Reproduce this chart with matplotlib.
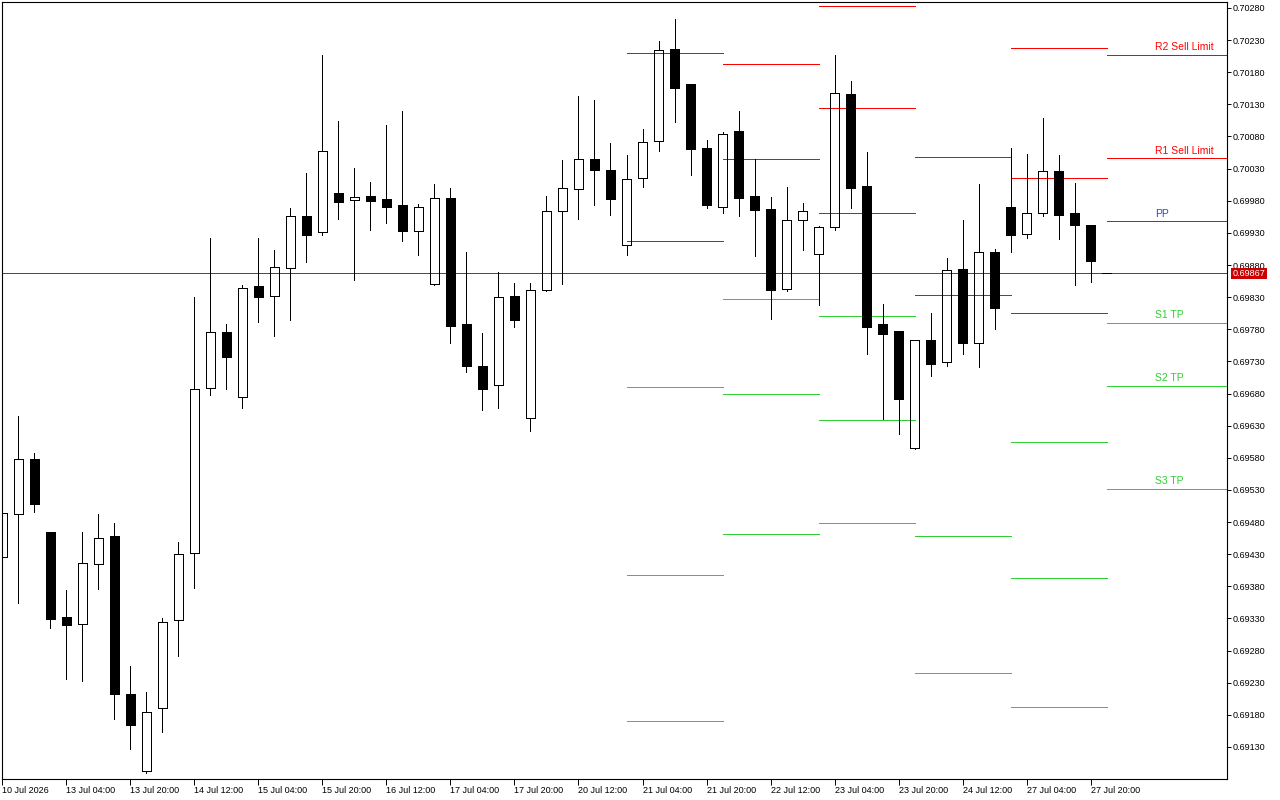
import matplotlib
matplotlib.use('Agg')
import matplotlib.pyplot as plt
from matplotlib.patches import Rectangle
import numpy as np

# H4 bars, 10 Jul 2026 12:00 .. 28 Jul 2026 00:00
opens = [0.69426, 0.69493, 0.69578, 0.69465, 0.69332, 0.69321, 0.69415, 0.69458, 0.69212, 0.69093,
         0.69191, 0.69328, 0.69432, 0.69689, 0.69776, 0.69675, 0.69847, 0.69832, 0.69875, 0.69956,
         0.69931, 0.69992, 0.69981, 0.69987, 0.69983, 0.69973, 0.69933, 0.69850, 0.69984, 0.69788,
         0.69723, 0.69693, 0.69832, 0.69642, 0.69841, 0.69964, 0.69998, 0.70045, 0.70028, 0.69911,
         0.70015, 0.70073, 0.70216, 0.70162, 0.70062, 0.69970, 0.70089, 0.69987, 0.69967, 0.69843,
         0.69950, 0.69897, 0.69939, 0.70146, 0.70003, 0.69788, 0.69777, 0.69595, 0.69763, 0.69729,
         0.69874, 0.69759, 0.69900, 0.69970, 0.69928, 0.69961, 0.70026, 0.69961, 0.69942, 0.69867]
highs = [0.69496, 0.69645, 0.69587, 0.69465, 0.69374, 0.69465, 0.69493, 0.69479, 0.69256, 0.69216,
         0.69331, 0.69449, 0.69830, 0.69922, 0.69788, 0.69849, 0.69922, 0.69903, 0.69969, 0.70023,
         0.70207, 0.70104, 0.70031, 0.70009, 0.70098, 0.70120, 0.69975, 0.70006, 0.70000, 0.69900,
         0.69774, 0.69869, 0.69852, 0.69852, 0.69987, 0.70043, 0.70143, 0.70137, 0.70070, 0.70051,
         0.70092, 0.70229, 0.70263, 0.70162, 0.70075, 0.70087, 0.70120, 0.70045, 0.69986, 0.70001,
         0.69977, 0.69941, 0.70207, 0.70166, 0.70056, 0.69819, 0.69777, 0.69763, 0.69805, 0.69891,
         0.69950, 0.70006, 0.69905, 0.70062, 0.70053, 0.70109, 0.70051, 0.70008, 0.69942, 0.69867]
lows = [0.69423, 0.69354, 0.69496, 0.69315, 0.69236, 0.69233, 0.69376, 0.69174, 0.69127, 0.69090,
        0.69153, 0.69272, 0.69377, 0.69678, 0.69687, 0.69658, 0.69791, 0.69770, 0.69794, 0.69885,
        0.69927, 0.69952, 0.69857, 0.69934, 0.69945, 0.69917, 0.69896, 0.69849, 0.69759, 0.69714,
        0.69654, 0.69658, 0.69784, 0.69622, 0.69840, 0.69850, 0.69952, 0.69973, 0.69958, 0.69896,
        0.70001, 0.70057, 0.70103, 0.70020, 0.69969, 0.69961, 0.69956, 0.69894, 0.69796, 0.69840,
        0.69903, 0.69818, 0.69934, 0.69969, 0.69742, 0.69640, 0.69617, 0.69594, 0.69707, 0.69723,
        0.69742, 0.69721, 0.69780, 0.69900, 0.69922, 0.69956, 0.69920, 0.69849, 0.69854, 0.69867]
closes = [0.69494, 0.69578, 0.69508, 0.69329, 0.69320, 0.69416, 0.69455, 0.69212, 0.69164, 0.69184,
          0.69324, 0.69430, 0.69687, 0.69776, 0.69737, 0.69844, 0.69830, 0.69877, 0.69956, 0.69927,
          0.70057, 0.69978, 0.69986, 0.69980, 0.69970, 0.69933, 0.69970, 0.69984, 0.69785, 0.69723,
          0.69687, 0.69830, 0.69794, 0.69841, 0.69964, 0.70000, 0.70045, 0.70028, 0.69983, 0.70014,
          0.70071, 0.70215, 0.70156, 0.70061, 0.69973, 0.70084, 0.69984, 0.69966, 0.69841, 0.69950,
          0.69964, 0.69939, 0.70148, 0.70000, 0.69784, 0.69773, 0.69672, 0.69763, 0.69726, 0.69872,
          0.69759, 0.69900, 0.69813, 0.69927, 0.69961, 0.70026, 0.69958, 0.69942, 0.69886, 0.69867]

tick_labels = ['10 Jul 2026', '13 Jul 04:00', '13 Jul 20:00', '14 Jul 12:00', '15 Jul 04:00',
               '15 Jul 20:00', '16 Jul 12:00', '17 Jul 04:00', '17 Jul 20:00', '20 Jul 12:00',
               '21 Jul 04:00', '21 Jul 20:00', '22 Jul 12:00', '23 Jul 04:00', '23 Jul 20:00',
               '24 Jul 12:00', '27 Jul 04:00', '27 Jul 20:00']
price_ticks = [0.69130 + 0.0005 * k for k in range(24)]

# daily pivot levels (bar index where each day starts / ends)
day_start = [39, 45, 51, 57, 63, 69]
day_end = [45, 51, 57, 63, 69, None]
r2 = [None, None, 0.70283, None, 0.70218, 0.70207]
r1 = [0.70210, 0.70193, 0.70124, 0.70048, 0.70015, 0.70046]
pp = [0.69917, 0.70045, 0.69961, 0.69833, 0.69805, 0.69948]
s1 = [0.69690, 0.69827, 0.69801, None, 0.69605, 0.69790]
s2 = [0.69398, 0.69679, 0.69639, 0.69458, 0.69393, 0.69692]
s3 = [0.69170, 0.69461, 0.69479, 0.69245, 0.69192, 0.69532]
level_names = ['R2 Sell Limit', 'R1 Sell Limit', 'PP', 'S1 TP', 'S2 TP', 'S3 TP']
bid = 0.69867

RED = '#ff0000'
BLUE = '#1a4fd0'
GREEN = '#32cd32'
FONT = 'Liberation Sans'
LW = 0.6

fig = plt.figure(figsize=(12.8, 8), dpi=100)
ax = fig.add_axes([2 / 1280, 21 / 800, 1225 / 1280, 777 / 800])
x_right = 76.52
ax.set_xlim(-0.02, x_right)
ax.set_ylim(0.690801, 0.702893)

# pivot lines
levels = [(r2, RED), (r1, RED), (pp, BLUE), (s1, GREEN), (s2, GREEN), (s3, GREEN)]
for d in range(len(day_start)):
    xe = day_end[d] if day_end[d] is not None else x_right
    for vals, col in levels:
        if vals[d] is not None:
            ax.hlines(vals[d], day_start[d], xe, color=col, lw=LW, zorder=1,
                      antialiased=False)

# labels for the current day
for (vals, col), name in zip(levels, level_names):
    ax.text(72, vals[-1] + 0.00004, name, color=col, fontsize=7.5, family=FONT,
            ha='left', va='bottom', zorder=2)

# bid line
ax.axhline(bid, color=RED, lw=LW, zorder=1, antialiased=False)

# candles
w = 0.6
for i, (o, h, l, c) in enumerate(zip(opens, highs, lows, closes)):
    top, bot = max(o, c), min(o, c)
    if h > top:
        ax.vlines(i, top, h, color='black', lw=LW, zorder=3, antialiased=False)
    if l < bot:
        ax.vlines(i, l, bot, color='black', lw=LW, zorder=3, antialiased=False)
    fc = 'black' if c < o else 'none'
    ax.add_patch(Rectangle((i - w / 2, bot), w, top - bot, facecolor=fc,
                           edgecolor='black', lw=LW, zorder=4, antialiased=False))

# axes styling
for sp in ax.spines.values():
    sp.set_color('black')
    sp.set_linewidth(0.8)
ax.yaxis.tick_right()
ax.set_yticks(price_ticks)
ax.set_yticklabels([f'{v:.5f}' for v in price_ticks], fontsize=6.5, family=FONT)
ax.tick_params(axis='y', direction='out', length=3, width=0.7, pad=1)
ax.set_xticks(np.arange(len(tick_labels)) * 4)
ax.set_xticklabels(tick_labels, fontsize=6.5, family=FONT, ha='left')
ax.tick_params(axis='x', direction='out', length=4, width=0.7, pad=1)

# current price box on the scale
ax.annotate(f'{bid:.5f}', xy=(1.0, bid), xycoords=('axes fraction', 'data'),
            xytext=(4, 0), textcoords='offset points', ha='left', va='center',
            color='white', fontsize=6.5, family=FONT, annotation_clip=False, zorder=10,
            bbox=dict(boxstyle='square,pad=0.15', facecolor='#cc0000', edgecolor='none'))

fig.savefig('out.png', dpi=100)
